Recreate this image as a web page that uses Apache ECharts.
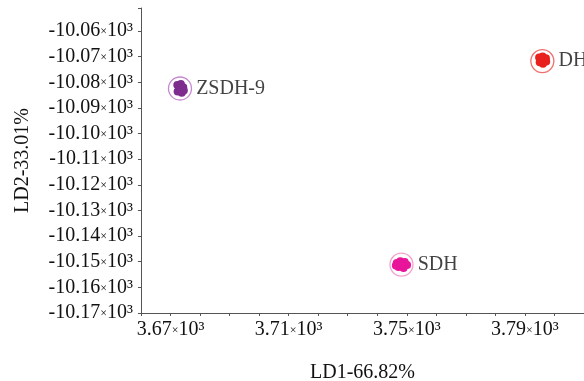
<!DOCTYPE html>
<html>
<head>
<meta charset="utf-8">
<script src="https://cdn.jsdelivr.net/npm/echarts@6/dist/echarts.min.js"></script>
<style>html,body{margin:0;padding:0;background:#fff}#c{width:584px;height:381px}</style>
</head>
<body>
<div id="c"></div>
<script>
// Group names
var groups = ['ZSDH-9', 'SDH', 'DH'];
// Group centroids (LD1, LD2)
var centerZSDH9 = [3673.2, -10082.4];
var centerSDH = [3748.2, -10151.1];
var centerDH = [3795.9, -10071.7];
// Individual sample points in each cluster
var pointsZSDH9 = [[3672.3,-10081.0],[3673.5,-10080.7],[3674.3,-10081.9],[3673.0,-10082.5],[3672.4,-10083.6],[3673.8,-10084.1],[3674.5,-10083.2],[3673.2,-10083.3]];
var pointsSDH = [[3746.6,-10150.5],[3747.8,-10149.8],[3749.3,-10150.1],[3750.1,-10151.3],[3748.9,-10152.4],[3747.2,-10152.1],[3746.3,-10151.5],[3748.3,-10151.2]];
var pointsDH = [[3794.8,-10070.3],[3796.0,-10069.9],[3797.1,-10070.6],[3797.2,-10071.9],[3796.1,-10072.8],[3795.0,-10072.2],[3795.5,-10071.3],[3796.4,-10071.5]];
// Axis ranges and tick labels
var xLabels = [3670, 3710, 3750, 3790];
var yLabels = [-10060,-10070,-10080,-10090,-10100,-10110,-10120,-10130,-10140,-10150,-10160,-10170];
var xTitle = 'LD1-66.82%';
var yTitle = 'LD2-33.01%';

var fillColors = ['#7E2C8E', '#E8149A', '#E8211F'];
var ringColors = ['#B86BC6', '#F088C4', '#EE4B4B'];
var centers = [centerZSDH9, centerSDH, centerDH];
var points = [pointsZSDH9, pointsSDH, pointsDH];

var FONT = 'Liberation Serif';
var TXT = '#111';
var rich = {
  n: {fontFamily: FONT, fontSize: 20, color: TXT},
  x: {fontFamily: FONT, fontSize: 12, color: TXT, padding: [2,0,0,0]},
  s: {fontFamily: FONT, fontSize: 20, color: TXT}
};
function fmt(v, dec) {
  return '{n|' + (v / 1000).toFixed(dec) + '}{x|×}{s|10³}';
}

var series = [];
for (var i = 0; i < groups.length; i++) {
  series.push({
    type: 'scatter', name: groups[i] + '-pts',
    data: points[i], symbol: 'circle', symbolSize: 8,
    itemStyle: {color: fillColors[i], opacity: 1},
    z: 3, silent: true
  });
  series.push({
    type: 'scatter', name: groups[i],
    data: [centers[i]], symbol: 'circle', symbolSize: 23,
    itemStyle: {color: 'rgba(0,0,0,0)', borderColor: ringColors[i], borderWidth: 1.3},
    label: {show: true, position: 'right', distance: 4, formatter: groups[i],
      fontFamily: FONT, fontSize: 20, color: TXT},
    z: 4, silent: true
  });
}

var chart = echarts.init(document.getElementById('c'));
chart.setOption({
  animation: false,
  grid: {left: 141, right: 0, top: 8, bottom: 68, containLabel: false, outerBoundsMode: 'none'},
  xAxis: {
    type: 'value', min: 3660, max: 3810, interval: 10,
    name: xTitle, nameLocation: 'middle', nameGap: 50,
    nameTextStyle: {fontFamily: FONT, fontSize: 20, color: TXT},
    axisLine: {show: true, lineStyle: {color: '#555', width: 1}},
    axisTick: {show: true, length: 3, lineStyle: {color: '#555'}},
    splitLine: {show: false},
    axisLabel: {margin: 7, rich: rich, formatter: function (v) {
      return xLabels.indexOf(Math.round(v)) >= 0 ? fmt(v, 2) : '';
    }}
  },
  yAxis: {
    type: 'value', min: -10170, max: -10051, interval: 10,
    name: yTitle, nameLocation: 'middle', nameGap: 108,
    nameTextStyle: {fontFamily: FONT, fontSize: 20, color: TXT},
    axisLine: {show: true, lineStyle: {color: '#555', width: 1}},
    axisTick: {show: true, length: 3, lineStyle: {color: '#555'}},
    splitLine: {show: false},
    axisLabel: {margin: 8, rich: rich, formatter: function (v) {
      return yLabels.indexOf(Math.round(v)) >= 0 ? fmt(v, 2) : '';
    }}
  },
  series: series
});
</script>
</body>
</html>
